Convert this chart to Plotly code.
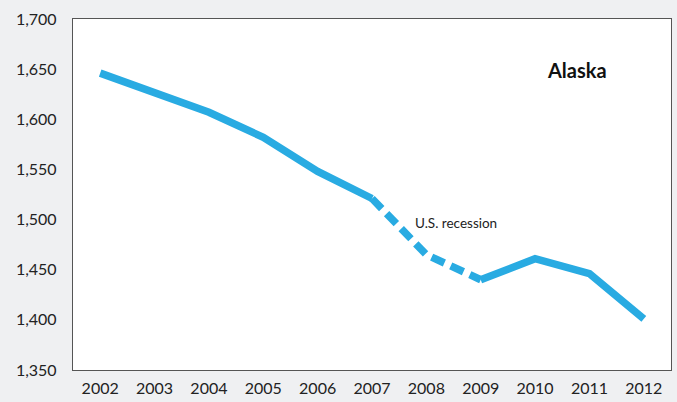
import plotly.graph_objects as go

years = ["2002", "2003", "2004", "2005", "2006", "2007", "2008", "2009", "2010", "2011", "2012"]
values = [1646, 1627, 1607, 1582, 1548, 1521, 1465, 1440, 1461, 1446, 1401]
recession_start = "2007"
recession_end = "2009"
y_ticks = [1350, 1400, 1450, 1500, 1550, 1600, 1650, 1700]

i0 = years.index(recession_start)
i1 = years.index(recession_end)
blue = "#29abe2"
W = 7.5

fig = go.Figure()
fig.add_trace(go.Scatter(x=years[:i0 + 1], y=values[:i0 + 1], mode="lines",
                         line=dict(color=blue, width=W), hoverinfo="skip"))
fig.add_trace(go.Scatter(x=years[i0:i1 + 1], y=values[i0:i1 + 1], mode="lines",
                         line=dict(color=blue, width=W, dash="14px,7px"), hoverinfo="skip"))
fig.add_trace(go.Scatter(x=years[i1:], y=values[i1:], mode="lines",
                         line=dict(color=blue, width=W), hoverinfo="skip"))

font_family = "Lato, 'Open Sans', sans-serif"

fig.update_layout(
    width=677, height=402,
    margin=dict(l=73, r=5, t=19, b=25),
    paper_bgcolor="#eff0f2",
    plot_bgcolor="#ffffff",
    showlegend=False,
    font=dict(family=font_family, size=16, color="#222222"),
    xaxis=dict(type="category", range=[-0.5, 10.5], showgrid=False, zeroline=False,
               showline=True, linecolor="#555555", linewidth=1.3, mirror=True,
               ticks="", tickfont=dict(size=16, color="#222222"), ticklabelstandoff=4),
    yaxis=dict(range=[1350, 1700], tickvals=y_ticks,
               ticktext=[f"{v:,}" for v in y_ticks], showgrid=False, zeroline=False,
               showline=True, linecolor="#555555", linewidth=1.3, mirror=True,
               ticks="", tickfont=dict(size=16, color="#222222"), ticklabelstandoff=12),
    annotations=[
        dict(text="<b>Alaska</b>", x=0.896, y=0.894, xref="paper", yref="paper",
             xanchor="right", showarrow=False,
             font=dict(size=20, color="#111111", family=font_family)),
        dict(text="U.S. recession", x=0.641, y=0.419, xref="paper", yref="paper",
             showarrow=False, font=dict(size=13.5, color="#222222", family=font_family)),
    ],
)

fig.write_html("out.html", config={"displayModeBar": False},
               post_script="document.body.style.margin='0';")
